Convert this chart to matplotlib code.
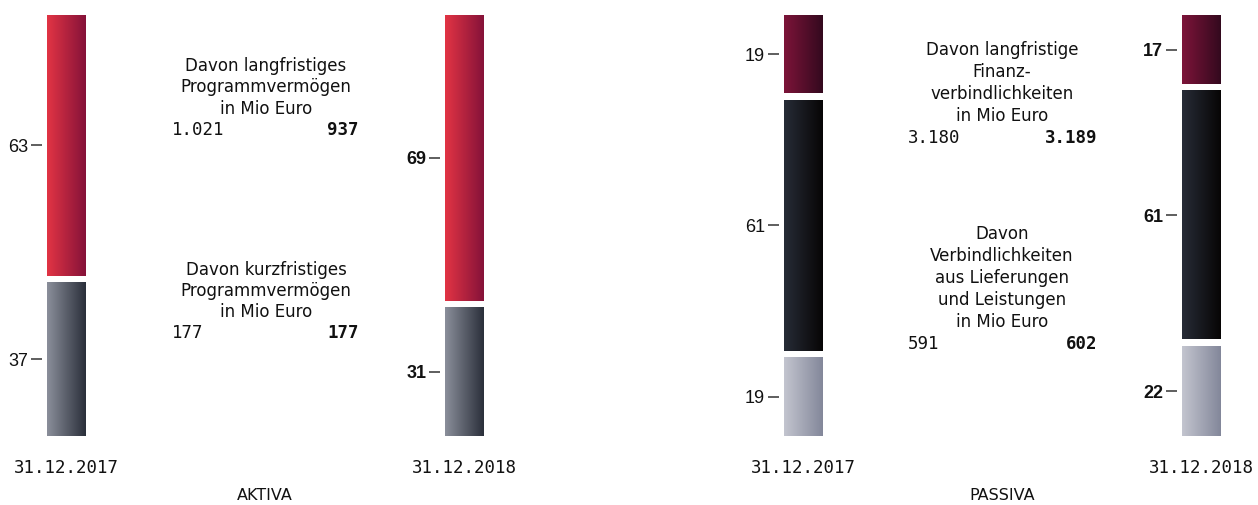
import numpy as np
import matplotlib.pyplot as plt
from matplotlib.colors import LinearSegmentedColormap

W, H = 1258, 505

# shares in percent, top segment first
aktiva_2017 = [63, 37]
aktiva_2018 = [69, 31]
passiva_2017 = [19, 61, 19]
passiva_2018 = [17, 61, 22]
dates = ['31.12.2017', '31.12.2018']

aktiva_notes = [
    (['Davon langfristiges', 'Programmvermögen', 'in Mio Euro'], '1.021', '937'),
    (['Davon kurzfristiges', 'Programmvermögen', 'in Mio Euro'], '177', '177'),
]
passiva_notes = [
    (['Davon langfristige', 'Finanz-', 'verbindlichkeiten', 'in Mio Euro'], '3.180', '3.189'),
    (['Davon', 'Verbindlichkeiten', 'aus Lieferungen', 'und Leistungen', 'in Mio Euro'], '591', '602'),
]

# gradient colours (left -> right)
red = ('#e23444', '#851239')
slate = ('#8b8f9b', '#2a2f3a')
maroon = ('#7d1439', '#33091e')
black = ('#272c37', '#070505')
light = ('#c3c5cf', '#83879a')

sans = 'DejaVu Sans'
mono = 'DejaVu Sans Mono'
tickfont = 'Liberation Sans'


def px(x, y):
    return x / W, 1 - y / H


def bar_column(fig, x0, values, colours, bold):
    gap_px, top, bottom, width = 7, 15, 436, 39
    n_gaps = len(values) - 1
    s = sum(values)
    g = gap_px * s / (bottom - top - gap_px * n_gaps)
    total = s + n_gaps * g
    ax = fig.add_axes([x0 / W, (H - bottom) / H, width / W, (bottom - top) / H])
    for sp in ax.spines.values():
        sp.set_visible(False)
    ax.spines['left'].set_position(('outward', 3.5))
    grad = np.linspace(0, 1, 256).reshape(1, -1)
    y = total
    centers = []
    for v, c in zip(values, colours):
        cmap = LinearSegmentedColormap.from_list('g', list(c))
        ax.imshow(grad, cmap=cmap, extent=(0, 1, y - v, y), aspect='auto')
        centers.append(y - v / 2)
        y -= v + g
    ax.set_xlim(0, 1)
    ax.set_ylim(0, total)
    ax.set_xticks([])
    ax.tick_params(axis='y', length=8, width=1.1, color='#333333', pad=2)
    ax.set_yticks(centers)
    ax.set_yticklabels([str(v) for v in values], family=tickfont, fontsize=13,
                       fontweight='bold' if bold else 'normal', color='#111111')
    return ax


fig = plt.figure(figsize=(W / 100, H / 100), dpi=100)

bar_column(fig, 47, aktiva_2017, [red, slate], False)
bar_column(fig, 445, aktiva_2018, [red, slate], True)
bar_column(fig, 784, passiva_2017, [maroon, black, light], False)
bar_column(fig, 1182, passiva_2018, [maroon, black, light], True)

for xc, d in zip([66.5, 464.5, 803.5, 1201.5], dates * 2):
    fig.text(*px(xc, 468), d, ha='center', va='center', family=mono, fontsize=12.5, color='#111111')
fig.text(*px(265, 496), 'AKTIVA', ha='center', va='center', family=sans, fontsize=11.5, color='#111111')
fig.text(*px(1002, 496), 'PASSIVA', ha='center', va='center', family=sans, fontsize=11.5, color='#111111')


def note(xc, xl, xr, y0, pitch, lines, v1, v2):
    for i, line in enumerate(lines):
        fig.text(*px(xc, y0 + i * pitch), line, ha='center', va='center',
                 family=sans, fontsize=12, color='#111111')
    yv = y0 + len(lines) * pitch
    fig.text(*px(xl, yv), v1, ha='left', va='center', family=mono, fontsize=12.5, color='#111111')
    fig.text(*px(xr, yv), v2, ha='right', va='center', family=mono, fontsize=12.5,
             fontweight='bold', color='#111111')


note(266, 172, 359, 66, 21.3, *aktiva_notes[0])
note(266, 172, 359, 270, 21.0, *aktiva_notes[1])
note(1002, 908, 1097, 50, 22.0, *passiva_notes[0])
note(1002, 908, 1097, 234, 22.0, *passiva_notes[1])

fig.savefig('out.png', dpi=100)
